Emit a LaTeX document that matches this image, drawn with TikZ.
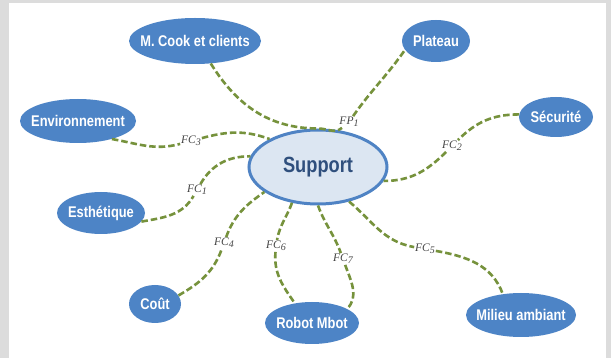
\documentclass[tikz,border=0pt]{standalone}
\usepackage{fontspec}
\setmainfont{Liberation Sans}
\newfontfamily\nodefont{Liberation Sans}[FakeStretch=0.83]
\newfontfamily\lblfont{Liberation Serif}
\usetikzlibrary{shapes.geometric}
\definecolor{bandgray}{RGB}{220,220,220}
\definecolor{nodeblue}{RGB}{77,132,198}
\definecolor{supfill}{RGB}{220,230,242}
\definecolor{supborder}{RGB}{79,131,196}
\definecolor{suptext}{RGB}{47,79,125}
\definecolor{olive}{RGB}{118,146,60}
\definecolor{lblgray}{RGB}{70,70,70}
\tikzset{
  bubble/.style={ellipse, fill=nodeblue, draw=none, inner sep=0pt, text=white,
    font=\nodefont\bfseries\fontsize{15.5}{17}\selectfont},
  central/.style={ellipse, fill=supfill, draw=supborder, line width=3pt, inner sep=0pt,
    text=suptext, font=\nodefont\bfseries\fontsize{22}{24}\selectfont},
  conn/.style={draw=olive, line width=2.6pt, dash pattern=on 6.5pt off 3pt},
  lbl/.style={inner sep=0.8pt, text=lblgray, font=\lblfont\itshape\fontsize{11.5}{12}\selectfont}
}
\newcommand{\mk}[1]{\makebox[0pt][c]{#1}}
\newcommand{\fcl}[2]{#1\raisebox{-2.2pt}{\fontsize{10}{10}\selectfont #2}}
\begin{document}
\begin{tikzpicture}[x=1pt,y=-1pt]
\useasboundingbox (0,0) rectangle (611,358);
\fill[bandgray] (0,0) rectangle (611,358);
\fill[white] (9,3) rectangle (606,358);

\node[central, minimum width=138pt, minimum height=74pt] (sup) at (318,167) {\mk{Support}};
\node[bubble, minimum width=132pt, minimum height=46pt] (cook) at (195,41) {\mk{M. Cook et clients}};
\node[bubble, minimum width=68pt, minimum height=42pt] (plat) at (436,41) {\mk{Plateau}};
\node[bubble, minimum width=116pt, minimum height=44pt] (env) at (78,121) {\mk{Environnement}};
\node[bubble, minimum width=74pt, minimum height=40pt] (secu) at (556,117) {\mk{Sécurité}};
\node[bubble, minimum width=88pt, minimum height=42pt] (esth) at (101,213) {\mk{Esthétique}};
\node[bubble, minimum width=52pt, minimum height=38pt] (cout) at (155,304) {\mk{Coût}};
\node[bubble, minimum width=94pt, minimum height=42pt] (robot) at (312,323) {\mk{Robot Mbot}};
\node[bubble, minimum width=110pt, minimum height=44pt] (mil) at (521,315) {\mk{Milieu ambiant}};

\node[lbl] (fp1) at (349,122) {\fcl{FP}{1}};
\node[lbl] (fc3) at (191,141) {\fcl{FC}{3}};
\node[lbl] (fc1) at (197,190) {\fcl{FC}{1}};
\node[lbl] (fc2) at (452,146) {\fcl{FC}{2}};
\node[lbl] (fc4) at (224,243) {\fcl{FC}{4}};
\node[lbl] (fc6) at (276,246) {\fcl{FC}{6}};
\node[lbl] (fc7) at (343,259) {\fcl{FC}{7}};
\node[lbl] (fc5) at (425,249) {\fcl{FC}{5}};

\draw[conn] (cook.-55) to[out=-58,in=180] (sup.north) to[out=0,in=-140] (fp1)
  to[out=55,in=-125] (plat.-164);
\draw[conn] (env.-28) to[out=-10,in=195] (fc3) to[out=15,in=160] (sup.150);
\draw[conn] (esth.-12) to[out=10,in=-120] (fc1) to[out=60,in=180] (sup.171);
\draw[conn] (secu.176) to[out=180,in=45] (fc2) to[out=-135,in=0] (sup.-12);
\draw[conn] (cout.20) to[out=30,in=-110] (fc4) to[out=70,in=-145] (sup.205);
\draw[conn] (sup.234) to[out=-110,in=80] (fc6) to[out=-95,in=125] (robot.131);
\draw[conn] (sup.-90) to[out=-70,in=110] (fc7) to[out=-70,in=45] (robot.22);
\draw[conn] (sup.-48) to[out=-40,in=170] (fc5) to[out=-10,in=110] (mil.131);
\end{tikzpicture}
\end{document}
